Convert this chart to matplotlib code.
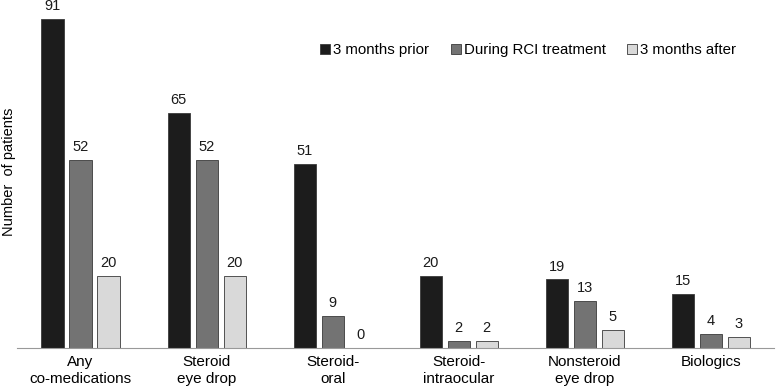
import matplotlib.pyplot as plt
import numpy as np

plt.rcParams['font.family'] = ['Liberation Sans', 'DejaVu Sans']

categories = ['Any\nco-medications', 'Steroid\neye drop', 'Steroid-\noral',
              'Steroid-\nintraocular', 'Nonsteroid\neye drop', 'Biologics']
series_names = ['3 months prior', 'During RCI treatment', '3 months after']
prior = [91, 65, 51, 20, 19, 15]
during = [52, 52, 9, 2, 13, 4]
after = [20, 20, 0, 2, 5, 3]

colors = ['#1c1c1c', '#737373', '#d9d9d9']

fig = plt.figure(figsize=(7.77, 3.88), dpi=100)
ax = fig.add_axes([0.0225, 0.103, 0.9735, 0.857])

x = np.arange(len(categories))
width = 0.175
step = 0.222
for i, (vals, name) in enumerate(zip([prior, during, after], series_names)):
    pos = x + (i - 1) * step
    bars = ax.bar(pos, vals, width, color=colors[i], edgecolor='#3a3a3a',
                  linewidth=0.6, label=name)
    for b, v in zip(bars, vals):
        ax.text(b.get_x() + b.get_width() / 2, v + 1.6, str(v),
                ha='center', va='bottom', fontsize=10.5, color='#1a1a1a')

ax.set_xlim(-0.5, len(categories) - 0.5)
ax.set_ylim(0, 92)
ax.set_xticks(x)
ax.set_xticklabels(categories, fontsize=11, linespacing=1.3)
ax.tick_params(axis='x', length=0, pad=5)
ax.set_yticks([])
for s in ['top', 'right', 'left']:
    ax.spines[s].set_visible(False)
ax.spines['bottom'].set_color('#999999')
ax.spines['bottom'].set_linewidth(0.8)

fig.text(0.003, 0.557, 'Number  of patients', rotation=90, ha='left', va='center',
         fontsize=10.5)

ax.legend(ncol=3, frameon=False, fontsize=10.8, loc='upper right',
          bbox_to_anchor=(0.958, 0.935), handlelength=0.65, handleheight=0.65,
          handletextpad=0.2, columnspacing=1.45, borderaxespad=0)

fig.savefig('out.png', dpi=100)
